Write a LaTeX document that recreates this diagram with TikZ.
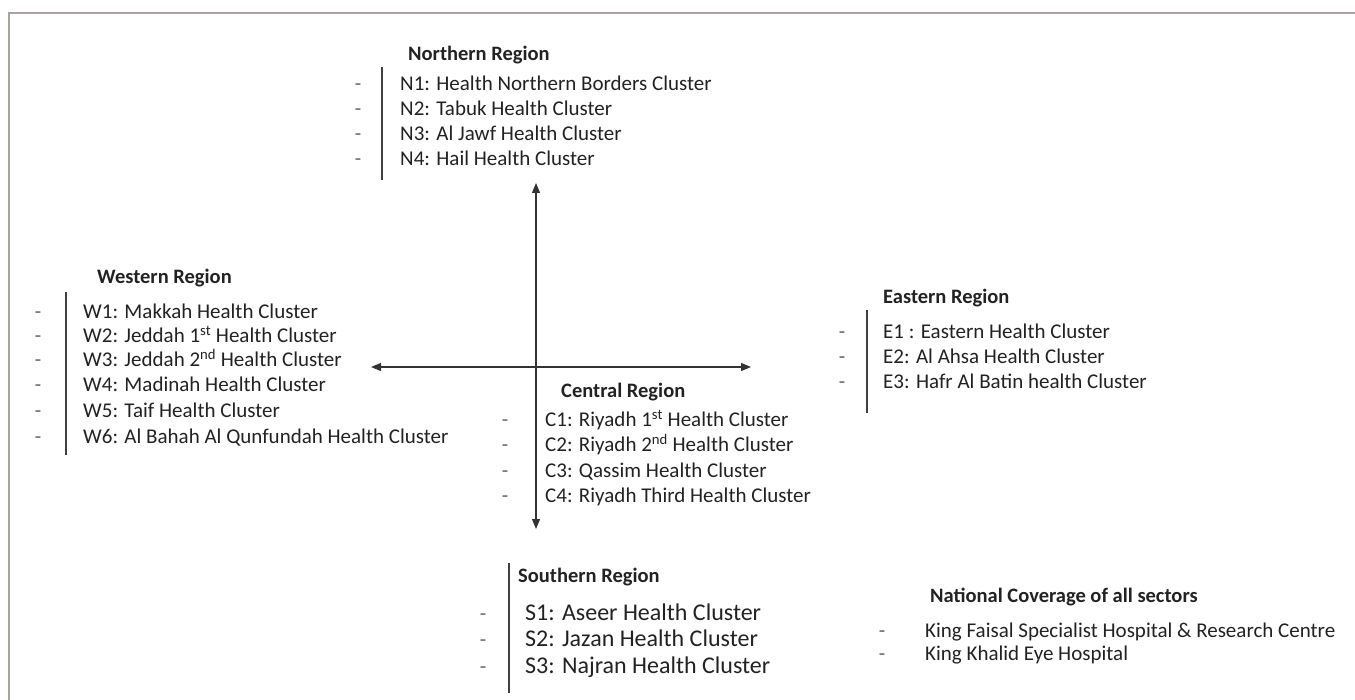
\documentclass[tikz,border=0pt]{standalone}
\usepackage{fontspec}
\setmainfont{Carlito}
\usetikzlibrary{arrows.meta}
\definecolor{framegrey}{HTML}{A8A4A0}
\definecolor{txt}{HTML}{222222}
\begin{document}
\begin{tikzpicture}[x=1pt,y=-1pt,
  item/.style={anchor=base west,inner sep=0pt,font=\fontsize{21}{24}\selectfont,text=txt},
  bigitem/.style={anchor=base west,inner sep=0pt,font=\fontsize{24}{27}\selectfont,text=txt},
  title/.style={anchor=base west,inner sep=0pt,font=\bfseries\fontsize{20.5}{24}\selectfont,text=txt},
  hyph/.style={anchor=base,inner sep=0pt,font=\fontsize{21}{24}\selectfont,text=txt!70},
  bar/.style={draw=black!75,line width=1.1pt},
  axis/.style={draw=black!80,line width=1.2pt,{Triangle[length=10pt,width=8pt]}-{Triangle[length=10pt,width=8pt]}}]
\useasboundingbox (0,0) rectangle (1355,700);
% frame (top and left edges)
\draw[framegrey,line width=2pt] (9,700) -- (9,13) -- (1355,13);

% axes
\coordinate (ntip) at (536,183);
\coordinate (stip) at (536,529);
\coordinate (wtip) at (371,367);
\coordinate (etip) at (751,367);
\draw[axis] (ntip) -- (stip);
\draw[axis] (wtip) -- (etip);

% Northern
\node[title] (ntitle) at (408,61) {Northern Region};
\coordinate (nbt) at (382,67);
\coordinate (nbb) at (382,180);
\draw[bar] (nbt) -- (nbb);
\foreach \i/\t/\y in {1/N1: Health Northern Borders Cluster/91,2/N2: Tabuk Health Cluster/116,3/N3: Al Jawf Health Cluster/141,4/N4: Hail Health Cluster/166}{
  \node[hyph] (nd\i) at (358,\y) {-};
  \node[item] (n\i) at (400,\y) {\t};
}

% Western
\node[title] (wtitle) at (97,284) {Western Region};
\coordinate (wbt) at (66,292);
\coordinate (wbb) at (66,455);
\draw[bar] (wbt) -- (wbb);
\foreach \i/\t/\y in {1/W1: Makkah Health Cluster/319,2/W2: Jeddah 1\textsuperscript{st} Health Cluster/343,3/W3: Jeddah 2\textsuperscript{nd} Health Cluster/367,4/W4: Madinah Health Cluster/392,5/W5: Taif Health Cluster/418,6/W6: Al Bahah Al Qunfundah Health Cluster/443}{
  \node[hyph] (wd\i) at (38,\y) {-};
  \node[item] (w\i) at (83,\y) {\t};
}

% Eastern
\node[title] (etitle) at (883,304) {Eastern Region};
\coordinate (ebt) at (867,310);
\coordinate (ebb) at (867,413);
\draw[bar] (ebt) -- (ebb);
\foreach \i/\t/\y in {1/E1 : Eastern Health Cluster/339,2/E2: Al Ahsa Health Cluster/364,3/E3: Hafr Al Batin health Cluster/389}{
  \node[hyph] (ed\i) at (842,\y) {-};
  \node[item] (e\i) at (883,\y) {\t};
}

% Central
\node[title] (ctitle) at (561,398) {Central Region};
\foreach \i/\t/\y in {1/C1: Riyadh 1\textsuperscript{st} Health Cluster/427,2/C2: Riyadh 2\textsuperscript{nd} Health Cluster/452,3/C3: Qassim Health Cluster/477,4/C4: Riyadh Third Health Cluster/502}{
  \node[hyph] (cd\i) at (505,\y) {-};
  \node[item] (c\i) at (545,\y) {\t};
}

% Southern
\node[title] (stitle) at (518,582) {Southern Region};
\coordinate (sbt) at (509,563);
\coordinate (sbb) at (509,693);
\draw[bar] (sbt) -- (sbb);
\foreach \i/\t/\y in {1/S1: Aseer Health Cluster/620,2/S2: Jazan Health Cluster/646,3/S3: Najran Health Cluster/673}{
  \node[hyph] (sd\i) at (483,\y) {-};
  \node[bigitem] (s\i) at (525,\y) {\t};
}

% National
\node[title] (ntl) at (930,602) {National Coverage of all sectors};
\foreach \i/\t/\y in {1/King Faisal Specialist Hospital \& Research Centre/637,2/King Khalid Eye Hospital/660}{
  \node[hyph] (kd\i) at (882,\y) {-};
  \node[item] (k\i) at (925,\y) {\t};
}
\end{tikzpicture}
\end{document}
